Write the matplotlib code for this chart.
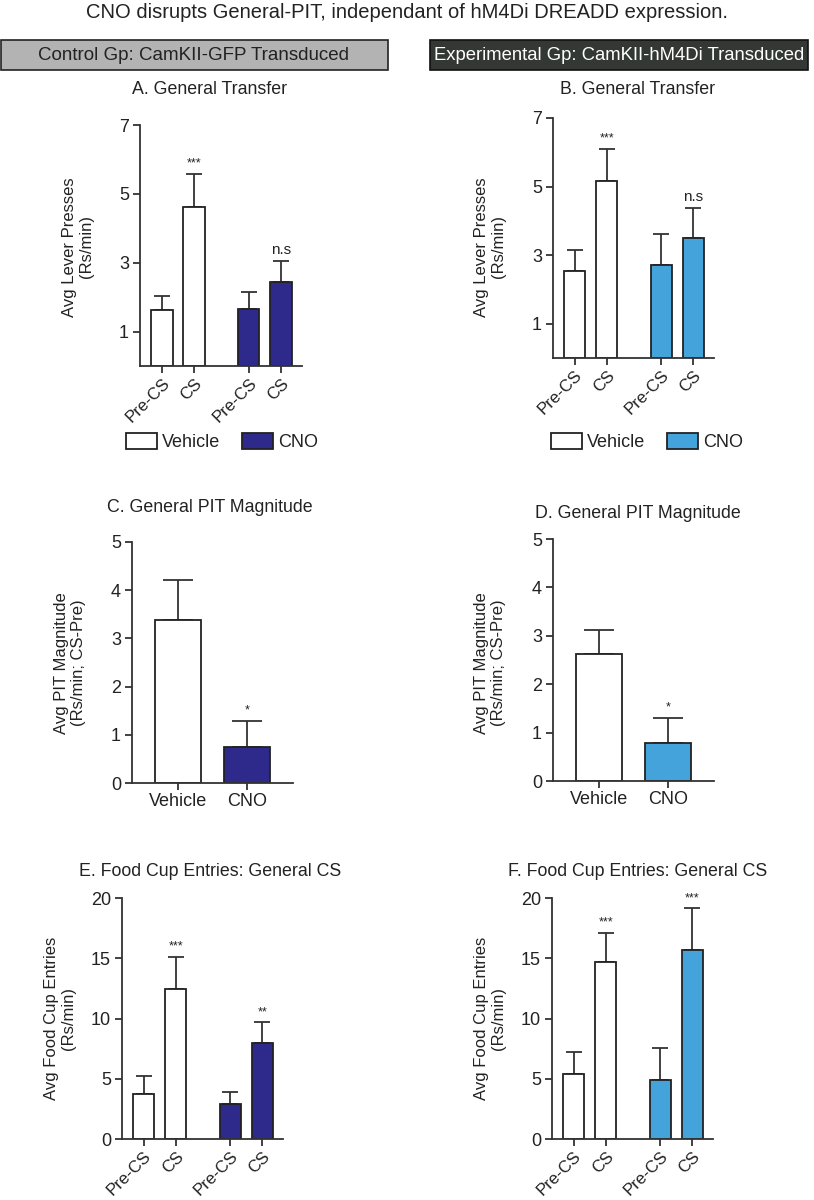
import matplotlib
matplotlib.use("Agg")
import matplotlib.pyplot as plt
from matplotlib.patches import Patch, Rectangle

plt.rcParams['font.family'] = ['Liberation Sans', 'DejaVu Sans']
plt.rcParams['text.color'] = '#222222'
plt.rcParams['axes.edgecolor'] = '#333333'
plt.rcParams['xtick.color'] = '#333333'
plt.rcParams['ytick.color'] = '#333333'
plt.rcParams['xtick.labelcolor'] = '#222222'
plt.rcParams['ytick.labelcolor'] = '#222222'

W, H = 814, 1200

# data
trial_labels = ['Pre-CS', 'CS', 'Pre-CS', 'CS']
drug_labels = ['Vehicle', 'CNO']

a_mean = [1.63, 4.61, 1.66, 2.43]
a_sem = [0.39, 0.98, 0.49, 0.62]
a_sig = ['', '***', '', 'n.s']

b_mean = [2.54, 5.16, 2.70, 3.49]
b_sem = [0.61, 0.94, 0.93, 0.89]
b_sig = ['', '***', '', 'n.s']

c_mean = [3.38, 0.74]
c_sem = [0.84, 0.55]
c_sig = ['', '*']

d_mean = [2.62, 0.78]
d_sem = [0.50, 0.52]
d_sig = ['', '*']

e_mean = [3.71, 12.44, 2.91, 8.00]
e_sem = [1.50, 2.68, 0.97, 1.70]
e_sig = ['', '***', '', '**']

f_mean = [5.38, 14.70, 4.88, 15.70]
f_sem = [1.88, 2.43, 2.71, 3.44]
f_sig = ['', '***', '', '***']

NAVY = '#2e2a8c'
BLUE = '#45a3dc'
EDGE = '#222222'


def px_axes(fig, x0, x1, ytop, ybot):
    return fig.add_axes([x0 / W, 1 - ybot / H, (x1 - x0) / W, (ybot - ytop) / H])


def draw_panel(ax, pos, means, sems, colors, sigs, labels, ylim, yticks, capsize, width, xlim, rot):
    ax.bar(pos, means, width=width, color=colors, edgecolor=EDGE, linewidth=1.3, zorder=2)
    ax.errorbar(pos, means, yerr=[[0] * len(sems), sems], fmt='none', ecolor='#333333',
                elinewidth=1.3, capsize=capsize, capthick=1.3, zorder=1)
    for x, m, s, t in zip(pos, means, sems, sigs):
        if t:
            fs = 11 if t == 'n.s' else 9
            ax.annotate(t, (x, m + s), xytext=(0, 3), textcoords='offset points',
                        ha='center', va='bottom', fontsize=fs)
    ax.set_ylim(*ylim)
    ax.set_yticks(yticks)
    ax.set_xlim(*xlim)
    ax.set_xticks(pos)
    if rot:
        ax.set_xticklabels(labels, rotation=45, ha='right', rotation_mode='anchor', fontsize=12.2)
    else:
        ax.set_xticklabels(labels, fontsize=13)
    for sp in ['top', 'right']:
        ax.spines[sp].set_visible(False)
    for sp in ['left', 'bottom']:
        ax.spines[sp].set_linewidth(1.3)
    ax.tick_params(axis='both', direction='out', length=5, width=1.3)
    ax.tick_params(axis='y', labelsize=13, pad=3)
    ax.tick_params(axis='x', pad=2)


fig = plt.figure(figsize=(W / 100, H / 100), dpi=100)

fig.text(407 / W, 1 - 13 / H, 'CNO disrupts General-PIT, independant of hM4Di DREADD expression.',
         ha='center', va='center', fontsize=14.5)

# group header boxes
fig.add_artist(Rectangle((1 / W, 1 - 70 / H), 387 / W, 30 / H, transform=fig.transFigure,
                         facecolor='#b3b3b3', edgecolor='#222222', linewidth=1.2))
fig.text(194 / W, 1 - 55 / H, 'Control Gp: CamKII-GFP Transduced', ha='center', va='center',
         fontsize=13.5, color='#222222')
fig.add_artist(Rectangle((430 / W, 1 - 70 / H), 378 / W, 30 / H, transform=fig.transFigure,
                         facecolor='#333835', edgecolor='#111111', linewidth=1.2))
fig.text(619 / W, 1 - 55 / H, 'Experimental Gp: CamKII-hM4Di Transduced', ha='center', va='center',
         fontsize=13.3, color='white')

pos4 = [0, 1, 2.7, 3.7]
pos2 = [0, 1]
xlim4 = (-0.68, 4.35)
xlim2 = (-0.67, 1.67)

# A
ax = px_axes(fig, 140, 302, 125, 366)
draw_panel(ax, pos4, a_mean, a_sem, ['white', 'white', NAVY, NAVY], a_sig, trial_labels,
           (0, 7), [1, 3, 5, 7], 5.5, 0.66, xlim4, True)
# B
ax = px_axes(fig, 553, 714, 118, 358)
draw_panel(ax, pos4, b_mean, b_sem, ['white', 'white', BLUE, BLUE], b_sig, trial_labels,
           (0, 7), [1, 3, 5, 7], 5.5, 0.66, xlim4, True)
# C
ax = px_axes(fig, 132, 293, 542, 783)
draw_panel(ax, pos2, c_mean, c_sem, ['white', NAVY], c_sig, drug_labels,
           (0, 5), [0, 1, 2, 3, 4, 5], 11, 0.67, xlim2, False)
# D
ax = px_axes(fig, 553, 714, 539, 781)
draw_panel(ax, pos2, d_mean, d_sem, ['white', BLUE], d_sig, drug_labels,
           (0, 5), [0, 1, 2, 3, 4, 5], 11, 0.67, xlim2, False)
# E
ax = px_axes(fig, 122, 283, 898, 1139)
draw_panel(ax, pos4, e_mean, e_sem, ['white', 'white', NAVY, NAVY], e_sig, trial_labels,
           (0, 20), [0, 5, 10, 15, 20], 5.5, 0.66, xlim4, True)
# F
ax = px_axes(fig, 552, 713, 898, 1139)
draw_panel(ax, pos4, f_mean, f_sem, ['white', 'white', BLUE, BLUE], f_sig, trial_labels,
           (0, 20), [0, 5, 10, 15, 20], 5.5, 0.66, xlim4, True)

# panel titles
titles = [
    (210, 90, 'A. General Transfer'),
    (638, 90, 'B. General Transfer'),
    (210, 507, 'C. General PIT Magnitude'),
    (638, 514, 'D. General PIT Magnitude'),
    (210, 872, 'E. Food Cup Entries: General CS'),
    (638, 872, 'F. Food Cup Entries: General CS'),
]
for x, y, t in titles:
    fig.text(x / W, 1 - y / H, t, ha='center', va='center', fontsize=12.8)

# y labels
ylabels = [
    (78, 247, 'Avg Lever Presses\n(Rs/min)'),
    (490, 247, 'Avg Lever Presses\n(Rs/min)'),
    (70, 663, 'Avg PIT Magnitude\n(Rs/min; CS-Pre)'),
    (490, 663, 'Avg PIT Magnitude\n(Rs/min; CS-Pre)'),
    (60, 1018, 'Avg Food Cup Entries\n(Rs/min)'),
    (490, 1018, 'Avg Food Cup Entries\n(Rs/min)'),
]
for x, y, t in ylabels:
    fig.text(x / W, 1 - y / H, t, ha='center', va='center', rotation=90,
             multialignment='center', fontsize=12, linespacing=1.1)

# legends
for cx, col in [(222, NAVY), (647, BLUE)]:
    handles = [Patch(facecolor='white', edgecolor=EDGE, linewidth=1.3, label='Vehicle'),
               Patch(facecolor=col, edgecolor=EDGE, linewidth=1.3, label='CNO')]
    fig.legend(handles=handles, loc='center', bbox_to_anchor=(cx / W, 1 - 442 / H), ncol=2,
               frameon=False, fontsize=13, handlelength=1.7, handleheight=1.0,
               handletextpad=0.3, columnspacing=1.2, borderpad=0)

fig.savefig('out.png', dpi=100)
